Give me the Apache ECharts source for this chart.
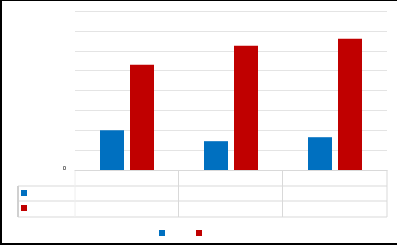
<!DOCTYPE html>
<html><head><meta charset="utf-8">
<script src="https://cdn.jsdelivr.net/npm/echarts@6/dist/echarts.min.js"></script>
<style>html,body{margin:0;padding:0;background:#fff}#c{width:397px;height:245px}</style>
</head><body><div id="c"></div>
<script>
const categories = ['', ' ', '  '];
const seriesNames = ['A', 'B'];
const blueValues = [2.0, 1.45, 1.65];
const redValues = [5.3, 6.25, 6.6];
const yTicks = [0, 1, 2, 3, 4, 5, 6, 7, 8];

const gridL = 75, gridR = 387, gridT = 11, gridB = 170;
const line = (x1, y1, x2, y2, c, w) => ({type: 'line', shape: {x1, y1, x2, y2}, style: {stroke: c || '#d9d9d9', lineWidth: w || 1}, silent: true});
const tg = '#d9d9d9';
const chart = echarts.init(document.getElementById('c'));
chart.setOption({
  animation: false,
  grid: {left: gridL, right: 397 - gridR, top: gridT, bottom: 245 - gridB, containLabel: false},
  xAxis: {type: 'category', data: categories, axisLine: {lineStyle: {color: tg}}, axisTick: {show: false}, axisLabel: {show: false}},
  yAxis: {type: 'value', min: yTicks[0], max: yTicks[yTicks.length - 1], interval: 1,
    axisLine: {show: false}, axisTick: {show: false},
    axisLabel: {formatter: v => v === 0 ? '0' : '', fontSize: 6, color: '#000', margin: 9, verticalAlign: 'bottom', lineHeight: 4},
    splitLine: {lineStyle: {color: '#e4e4e4'}}},
  legend: {left: 159, top: 230, itemWidth: 6, itemHeight: 6, itemGap: 31, icon: 'rect', formatter: () => '', data: seriesNames, padding: 0},
  series: [
    {name: seriesNames[0], type: 'bar', data: blueValues, itemStyle: {color: '#0070C0'}, barWidth: 24, barGap: '25%'},
    {name: seriesNames[1], type: 'bar', data: redValues, itemStyle: {color: '#C00000'}, barWidth: 24, barGap: '25%'}
  ],
  graphic: [
    line(18, 186, gridR, 186, tg), line(18, 201, gridR, 201, tg), line(18, 217, gridR, 217, tg),
    line(gridL, 170, gridL, 217, '#eeeeee'), line(178.5, 170, 178.5, 217, tg), line(282.5, 170, 282.5, 217, tg), line(gridR, 170, gridR, 217, tg),
    line(18, 186, 18, 217, '#d0d0d0', 2),
    {type: 'rect', shape: {x: 21, y: 190, width: 6, height: 6}, style: {fill: '#0070C0'}},
    {type: 'rect', shape: {x: 21, y: 205, width: 6, height: 6}, style: {fill: '#C00000'}},
    line(1, 0, 1, 245, '#000', 2), line(0, 0.5, 397, 0.5, '#000', 1), line(0, 244, 397, 244, '#000', 2)
  ]
});
</script></body></html>
